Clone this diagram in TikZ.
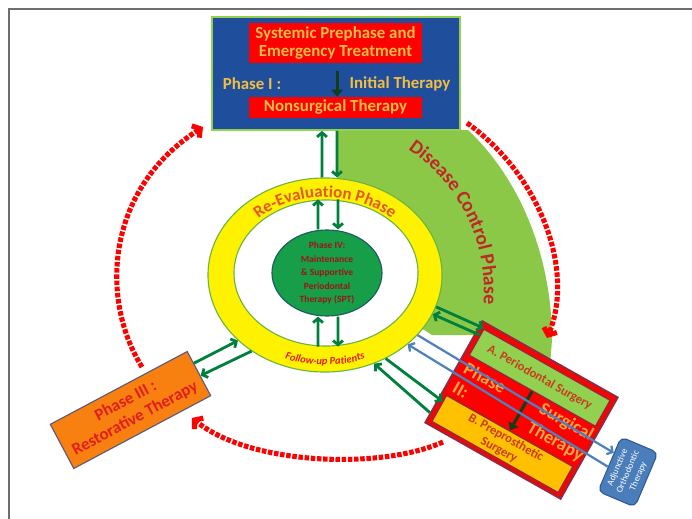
\documentclass[tikz,border=0pt]{standalone}
\usepackage{fontspec}
\setmainfont{Carlito}
\usepackage{xcolor}
\usetikzlibrary{shapes.geometric,arrows.meta,calc,decorations.text}

\definecolor{boxblue}{RGB}{30,78,156}
\definecolor{lightgreen}{RGB}{146,208,80}
\definecolor{dcgreen}{RGB}{140,200,72}
\definecolor{ringline}{RGB}{110,180,60}
\definecolor{sptgreen}{RGB}{22,158,72}
\definecolor{sptline}{RGB}{30,90,100}
\definecolor{arrowgreen}{RGB}{0,128,60}
\definecolor{darkgreen}{RGB}{20,60,25}
\definecolor{goldtext}{RGB}{242,190,64}
\definecolor{p2gold}{RGB}{244,170,60}
\definecolor{boxred}{RGB}{255,0,0}
\definecolor{maroon}{RGB}{150,40,60}
\definecolor{dcred}{RGB}{190,40,40}
\definecolor{reevalred}{RGB}{226,88,40}
\definecolor{restorange}{RGB}{248,128,16}
\definecolor{restline}{RGB}{90,90,120}
\definecolor{textred}{RGB}{225,30,30}
\definecolor{preproyellow}{RGB}{255,192,0}
\definecolor{subtext}{RGB}{200,60,30}
\definecolor{adjblue}{RGB}{74,126,187}
\definecolor{adjline}{RGB}{50,90,150}
\definecolor{lineblue}{RGB}{79,129,189}
\definecolor{framegray}{RGB}{110,110,110}
\definecolor{spttext}{RGB}{160,20,20}

\begin{document}
\begin{tikzpicture}[x=0.025cm, y=-0.025cm,
  redbox/.style={fill=boxred, inner sep=0pt, text=goldtext, align=center, font=\bfseries\fontsize{12}{13}\selectfont},
  goldlabel/.style={text=goldtext, font=\bfseries\fontsize{12}{13}\selectfont},
  ringnode/.style={ellipse, inner sep=0pt, line width=0.8pt},
  garrow/.style={draw=arrowgreen, line width=2pt, -{Straight Barb[length=3pt,width=7pt]}},
  barrow/.style={draw=lineblue, line width=1.6pt, -{Straight Barb[length=3pt,width=7pt]}},
  darrow/.style={draw=darkgreen, line width=2.2pt, -{Triangle[length=5pt,width=8pt]}},
  phasearc/.style={draw=boxred, line width=3.6pt, dash pattern=on 3.2pt off 1.2pt, -{Straight Barb[length=4pt,width=10pt]}},
  subbox/.style={draw=maroon, line width=1pt, inner sep=0pt, minimum width=3.625cm, minimum height=0.75cm, text=subtext, align=center, font=\bfseries\fontsize{9}{10}\selectfont},
  p2text/.style={text=p2gold, font=\bfseries\fontsize{13}{16}\selectfont}]
\useasboundingbox (0,0) rectangle (692,519);

% Slide frame
\draw[framegray, line width=1pt] (9,519) -- (9,9) -- (692,9);

% Disease control band
\fill[dcgreen] (337,130) -- plot[domain=-52.4:0, samples=40] ({337+215*cos(\x)}, {340+265*sin(\x)}) -- (550,365) -- (483,335) -- (432,335) -- (337,275) -- cycle;
\path[decorate, decoration={text along path, text align=center, text color=dcred,
  text={|\bfseries\fontsize{14}{15}\selectfont|Disease Control Phase}}]
  plot[domain=-59:7, samples=60] ({314+170*cos(\x)}, {291+170*sin(\x)});

% Phase I
\node[draw=lightgreen, fill=boxblue, line width=1.2pt, minimum width=6.2cm, minimum height=2.825cm, inner sep=0pt] (topbox) at (336,73.5) {};
\node[redbox, minimum width=4.325cm, minimum height=1cm] (prephase) at (335.5,43) {Systemic Prephase and\\Emergency Treatment};
\node[redbox, minimum width=4.325cm, minimum height=0.525cm] (nonsurg) at (335.5,107.5) {Nonsurgical Therapy};
\node[goldlabel] (phaseI) at (252,84) {Phase I :};
\node[goldlabel] (initial) at (400,84) {Initial Therapy};
\draw[darrow] ([shift={(0.04cm,-0.2cm)}]prephase.south) -- ([xshift=0.04cm]nonsurg.north);

% Phase arrows
\draw[phasearc] (467,123) .. controls (540,175) and (575,270) .. (547,338);
\draw[phasearc] (443,442) .. controls (380,470) and (250,465) .. (192,418);
\draw[phasearc] (142,367) .. controls (100,300) and (105,190) .. (203,127);

% Re-evaluation ring and Phase IV
\node[ringnode, fill=yellow, draw=ringline, minimum width=5.85cm, minimum height=4.85cm] (ring) at (325,275) {};
\node[ringnode, fill=white, draw=ringline, minimum width=4.6cm, minimum height=3.65cm] (inner) at (326,273) {};
\node[ringnode, fill=sptgreen, draw=sptline, minimum width=2.75cm, minimum height=2.15cm] (spt) at (327,273) {};
\node[text=spttext, align=center, font=\bfseries\fontsize{6.8}{9.6}\selectfont] (spttxt) at (spt) {Phase IV:\\Maintenance\\\& Supportive\\Periodontal\\Therapy (SPT)};
\path[decorate, decoration={text along path, text align=center, text color=reevalred,
  text={|\bfseries\fontsize{12}{13}\selectfont|Re-Evaluation Phase}}]
  plot[domain=205:335, samples=60] ({325+96*cos(\x)}, {275+78*sin(\x)});
\path[decorate, decoration={text along path, text align=center, text color=textred,
  text={|\itshape\bfseries\fontsize{7.5}{8}\selectfont|Follow-up Patients}}]
  plot[domain=118:62, samples=40] ({325+108*cos(\x)}, {275+90*sin(\x)});

\draw[garrow] ([xshift=-0.075cm]ring.north) -- ([xshift=-0.35cm]topbox.south);
\draw[garrow] ([xshift=0.025cm]topbox.south) -- ([xshift=0.3cm]ring.north);
\draw[garrow] ([xshift=-0.225cm]spt.north) -- ([xshift=-0.2cm]inner.north);
\draw[garrow] ([xshift=0.3cm]inner.north) -- ([xshift=0.275cm]spt.north);
\draw[garrow] ([xshift=-0.2cm]inner.south) -- ([xshift=-0.225cm]spt.south);
\draw[garrow] ([xshift=0.275cm]spt.south) -- ([xshift=0.3cm]inner.south);

% Phase III
\node[rotate=28, fill=restorange, draw=restline, line width=0.8pt, minimum width=3.875cm, minimum height=1.25cm, inner sep=0pt, text=textred, align=center, font=\bfseries\fontsize{12}{14}\selectfont] (restor) at (130.5,410) {Phase III :\\Restorative Therapy};
\draw[garrow] ($(restor.east)!0.45!(restor.north east)$) -- (ring.217);
\draw[garrow] (ring.226) -- ($(restor.east)!0.1!(restor.south east)$);

% Phase II
\begin{scope}[shift={(521.5,410)}, rotate=-29.4, transform shape]
\node[fill=boxred, draw=maroon, line width=1.5pt, minimum width=3.875cm, minimum height=2.9cm, inner sep=0pt] (phaseII) at (0,0) {};
\node[subbox, fill=lightgreen] (perio) at (0,-37) {A. Periodontal Surgery};
\node[subbox, fill=preproyellow] (prepro) at (0,39) {B. Preprosthetic\\Surgery};
\node[p2text, align=left, anchor=west] (phaseIIa) at (-75,1) {Phase\\II:};
\node[p2text, align=center] (phaseIIb) at (45,0) {Surgical\\Therapy};
\end{scope}
\draw[darrow] (perio.south) -- (prepro.north);

% Adjunctive
\node[rotate=67, fill=adjblue, draw=adjline, line width=0.8pt, rounded corners=4pt, minimum width=1.475cm, minimum height=1cm, inner sep=1pt, text=white, align=center, font=\fontsize{6.5}{8}\selectfont] (adj) at (628,472) {Adjunctive\\Orthodontic\\Therapy};

% Ring to Phase II and adjunctive
\draw[garrow] (ring.-16) -- (perio.north west);
\draw[garrow] ($(perio.north west)!0.5!(perio.west)$) -- (ring.-20);
\draw[garrow] (ring.-54) -- ($(prepro.north west)!0.5!(prepro.west)$);
\draw[garrow] ($(phaseII.west)!0.8!(phaseII.south west)$) -- (ring.-61);
\draw[barrow] (ring.-33) -- ($(adj.north east)!0.3!(adj.north west)$);
\draw[barrow] ($(adj.north east)!0.55!(adj.north west)$) -- (ring.-40);
\end{tikzpicture}
\end{document}
